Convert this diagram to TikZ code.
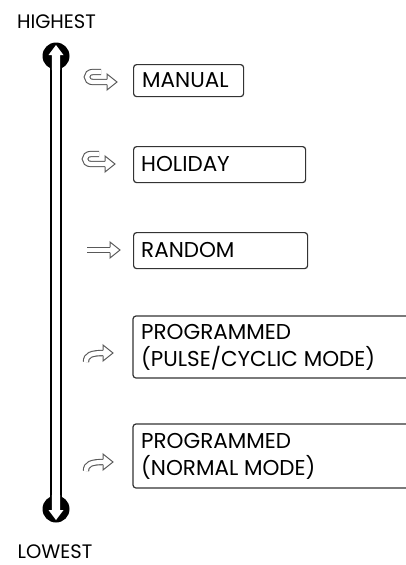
\documentclass[tikz,border=0pt]{standalone}
\usepackage{fontspec}
\setmainfont{Poppins}
\newcommand\hollowshaft[1]{%
  \draw[line width=6.4pt, black!65] #1;
  \draw[line width=4.2pt, white] #1;}
\begin{document}
\begin{tikzpicture}[x=1pt,y=-1pt,
  lbl/.style={font=\fontsize{19.5}{22}\selectfont, inner sep=0pt},
  btxt/.style={font=\fontsize{21.5}{27}\selectfont, inner sep=0pt, anchor=west, align=left},
  boxline/.style={draw=black!80, line width=1.2pt, rounded corners=3pt},
  headst/.style={draw=black!65, fill=white, line width=1pt, line join=miter}
]
\useasboundingbox (0,0) rectangle (405,565);
\fill[white] (0,0) rectangle (405,565);

% priority bar
\coordinate (top) at (56,56);
\coordinate (bot) at (56,509);
\node[lbl] (highest) at (56.5,22) {HIGHEST};
\node[lbl] (lowest) at (55,552) {LOWEST};
\draw[line width=1.6pt] ([xshift=-5pt]top) -- ([xshift=-5pt]bot);
\draw[line width=1.6pt] ([xshift=5pt]top) -- ([xshift=5pt]bot);
\fill (top) circle (13.5);
\fill (bot) circle (13.5);
\fill[white] (56,45) -- (63.5,55) -- (60.2,55) -- (60.2,70) -- (51.8,70) -- (51.8,55) -- (48.5,55) -- cycle;
\fill[white] (56,520) -- (63.5,510) -- (60.2,510) -- (60.2,495) -- (51.8,495) -- (51.8,510) -- (48.5,510) -- cycle;

% boxes
\node[boxline, draw, anchor=north west, minimum width=110pt, minimum height=32pt] (manualbox) at (133,64) {};
\node[btxt] (manual) at (142,80) {MANUAL};
\node[boxline, draw, anchor=north west, minimum width=172pt, minimum height=36pt] (holidaybox) at (133,146) {};
\node[btxt] (holiday) at (141,164) {HOLIDAY};
\node[boxline, draw, anchor=north west, minimum width=174pt, minimum height=36pt] (randombox) at (133,232) {};
\node[btxt] (random) at (141,250) {RANDOM};
\draw[boxline] (407,316) -| (133,378) -- (407,378);
\node[btxt] (pulse) at (141,347) {PROGRAMMED\\(PULSE/CYCLIC MODE)};
\draw[boxline] (407,424) -| (133,488) -- (407,488);
\node[btxt] (normal) at (141,456) {PROGRAMMED\\(NORMAL MODE)};

% arrows
% manual (hook above)
\hollowshaft{(101,72) -- (93,72) .. controls (85,72) and (85,82) .. (93,82) -- (108,82)}
\filldraw[headst] (107,79.3) -- (107,74) -- (117,82) -- (107,90) -- (107,84.7);
% holiday
\hollowshaft{(99,154) -- (91,154) .. controls (83,154) and (83,164) .. (91,164) -- (106,164)}
\filldraw[headst] (105,161.3) -- (105,156) -- (115,164) -- (105,172) -- (105,166.7);
% random
\hollowshaft{(87,250) -- (111,250)}
\filldraw[headst] (110,247.3) -- (110,242) -- (120,250) -- (110,258) -- (110,252.7);
% pulse
\hollowshaft{(86,362) .. controls (86,355) and (91,353) .. (104,353)}
\filldraw[headst] (103,350.3) -- (103,345) -- (113,353) -- (103,361) -- (103,355.7);
% normal
\hollowshaft{(86,471) .. controls (86,464) and (91,462) .. (104,462)}
\filldraw[headst] (103,459.3) -- (103,454) -- (113,462) -- (103,470) -- (103,464.7);
\end{tikzpicture}
\end{document}
